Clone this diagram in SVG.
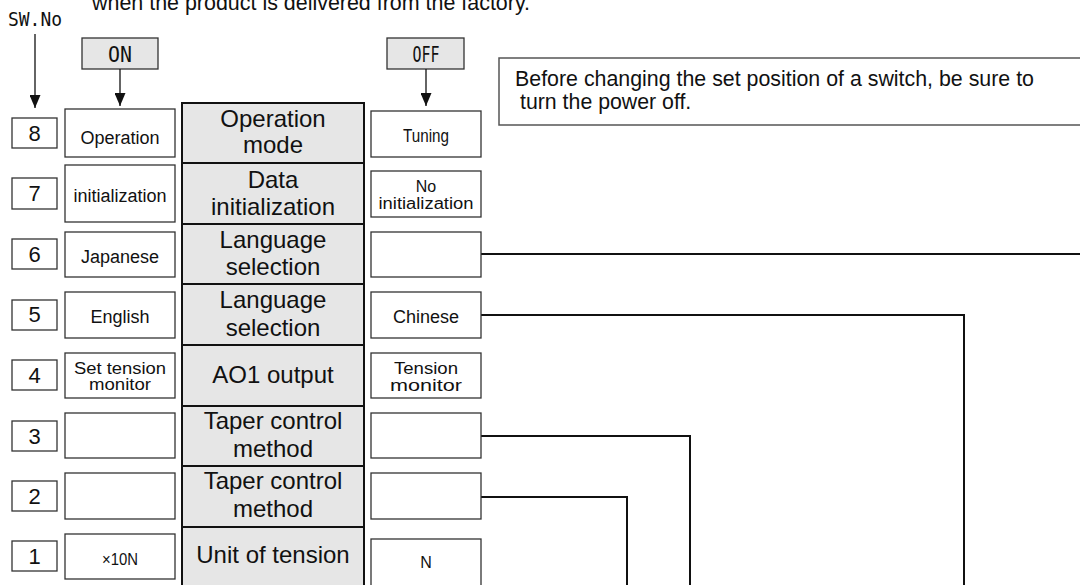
<svg xmlns="http://www.w3.org/2000/svg" width="1080" height="585" viewBox="0 0 1080 585">
<style>
.bg{fill:#fff}
.box{fill:#fff;stroke:#333;stroke-width:1.3}
.hdr{fill:#e6e6e6;stroke:#333;stroke-width:1.3}
.cell{fill:#e6e6e6;stroke:#111;stroke-width:2}
.conn{fill:none;stroke:#111;stroke-width:2}
.arr{fill:none;stroke:#111;stroke-width:1.3}
.sans{font-family:"Liberation Sans",Arial,sans-serif;fill:#111;text-anchor:middle}
.mono{font-family:"DejaVu Sans Mono","Liberation Mono",monospace;fill:#111;text-anchor:middle}
.c{font-size:24px}
.s{font-size:18px}
.t{font-size:16px}
.n{font-size:22px}
.note{font-family:"Liberation Sans",Arial,sans-serif;fill:#111;font-size:21.3px}
</style>
<defs>
<marker id="ah" viewBox="0 0 11 13" refX="5.5" refY="13" markerWidth="11" markerHeight="13" markerUnits="userSpaceOnUse" orient="0">
<path d="M0,0 L11,0 L5.5,13 z" fill="#111"/>
</marker>
</defs>
<rect class="bg" x="0" y="0" width="1080" height="585"/>

<text class="note" x="92" y="10" textLength="438" lengthAdjust="spacingAndGlyphs">when the product is delivered from the factory.</text>

<g id="swno">
<text class="mono" x="35" y="26" font-size="20" textLength="54" lengthAdjust="spacingAndGlyphs">SW.No</text>
</g>
<g id="on-header">
<rect class="hdr" x="82" y="38" width="76" height="31"/>
<text class="mono" x="120" y="62" font-size="21" textLength="24" lengthAdjust="spacingAndGlyphs">ON</text>
</g>
<g id="off-header">
<rect class="hdr" x="387" y="38" width="77" height="31"/>
<text class="mono" x="426" y="62" font-size="21" textLength="27" lengthAdjust="spacingAndGlyphs">OFF</text>
</g>

<g id="note">
<rect x="499" y="58" width="600" height="67" fill="#fff" stroke="#555" stroke-width="1.5"/>
<text class="note" x="515" y="86" textLength="519" lengthAdjust="spacingAndGlyphs">Before changing the set position of a switch, be sure to</text>
<text class="note" x="520" y="109">turn the power off.</text>
</g>

<g id="connectors">
<line class="arr" x1="35" y1="34" x2="35" y2="108" marker-end="url(#ah)"/>
<line class="arr" x1="120" y1="69" x2="120" y2="106" marker-end="url(#ah)"/>
<line class="arr" x1="426" y1="69" x2="426" y2="106" marker-end="url(#ah)"/>
<polyline class="conn" points="481,254 1082,254"/>
<polyline class="conn" points="481,315 964,315 964,590"/>
<polyline class="conn" points="481,436 690,436 690,590"/>
<polyline class="conn" points="481,497 627,497 627,590"/>
</g>

<g id="row8">
<rect class="box" x="12" y="118" width="45" height="30"/>
<text class="sans n" x="34.5" y="140.5">8</text>
<rect class="box" x="65" y="109" width="110" height="48"/>
<text class="sans s" x="120" y="144">Operation</text>
<rect class="cell" x="182" y="103" width="182" height="60"/>
<text class="sans c" x="273" y="127">Operation</text>
<text class="sans c" x="273" y="153">mode</text>
<rect class="box" x="371" y="111" width="110" height="46"/>
<text class="sans s" x="426" y="142" textLength="46" lengthAdjust="spacingAndGlyphs">Tuning</text>
</g>

<g id="row7">
<rect class="box" x="12" y="178" width="45" height="31"/>
<text class="sans n" x="34.5" y="201">7</text>
<rect class="box" x="65" y="165" width="110" height="57"/>
<text class="sans s" x="120" y="202">initialization</text>
<rect class="cell" x="182" y="163" width="182" height="61"/>
<text class="sans c" x="273" y="188">Data</text>
<text class="sans c" x="273" y="215">initialization</text>
<rect class="box" x="371" y="171" width="110" height="46"/>
<text class="sans t" x="426" y="192">No</text>
<text class="sans t" x="426" y="209" textLength="95" lengthAdjust="spacingAndGlyphs">initialization</text>
</g>

<g id="row6">
<rect class="box" x="12" y="239" width="45" height="30"/>
<text class="sans n" x="34.5" y="261.5">6</text>
<rect class="box" x="65" y="232" width="110" height="45"/>
<text class="sans s" x="120" y="263">Japanese</text>
<rect class="cell" x="182" y="224" width="182" height="60"/>
<text class="sans c" x="273" y="248">Language</text>
<text class="sans c" x="273" y="275">selection</text>
<rect class="box" x="371" y="232" width="110" height="45"/>
</g>

<g id="row5">
<rect class="box" x="12" y="300" width="45" height="30"/>
<text class="sans n" x="34.5" y="322">5</text>
<rect class="box" x="65" y="292" width="110" height="46"/>
<text class="sans s" x="120" y="323">English</text>
<rect class="cell" x="182" y="284" width="182" height="61"/>
<text class="sans c" x="273" y="308">Language</text>
<text class="sans c" x="273" y="336">selection</text>
<rect class="box" x="371" y="292" width="110" height="46"/>
<text class="sans s" x="426" y="323">Chinese</text>
</g>

<g id="row4">
<rect class="box" x="12" y="360" width="45" height="30"/>
<text class="sans n" x="34.5" y="382.5">4</text>
<rect class="box" x="65" y="353" width="110" height="45"/>
<text class="sans t" x="120" y="374" textLength="92" lengthAdjust="spacingAndGlyphs">Set tension</text>
<text class="sans t" x="120" y="390" textLength="62" lengthAdjust="spacingAndGlyphs">monitor</text>
<rect class="cell" x="182" y="345" width="182" height="61"/>
<text class="sans c" x="273" y="383">AO1 output</text>
<rect class="box" x="371" y="353" width="110" height="45"/>
<text class="sans t" x="426" y="374" textLength="64" lengthAdjust="spacingAndGlyphs">Tension</text>
<text class="sans t" x="426" y="391" textLength="72" lengthAdjust="spacingAndGlyphs">monitor</text>
</g>

<g id="row3">
<rect class="box" x="12" y="421" width="45" height="30"/>
<text class="sans n" x="34.5" y="443.5">3</text>
<rect class="box" x="65" y="413" width="110" height="45"/>
<rect class="cell" x="182" y="406" width="182" height="60"/>
<text class="sans c" x="273" y="429">Taper control</text>
<text class="sans c" x="273" y="457">method</text>
<rect class="box" x="371" y="413" width="110" height="45"/>
</g>

<g id="row2">
<rect class="box" x="12" y="481" width="45" height="30"/>
<text class="sans n" x="34.5" y="503.5">2</text>
<rect class="box" x="65" y="473" width="110" height="46"/>
<rect class="cell" x="182" y="466" width="182" height="61"/>
<text class="sans c" x="273" y="489">Taper control</text>
<text class="sans c" x="273" y="517">method</text>
<rect class="box" x="371" y="473" width="110" height="46"/>
</g>

<g id="row1">
<rect class="box" x="12" y="541" width="45" height="30"/>
<text class="sans n" x="34.5" y="563.5">1</text>
<rect class="box" x="65" y="534" width="110" height="45"/>
<text class="sans t" x="120" y="565" textLength="36" lengthAdjust="spacingAndGlyphs">×10N</text>
<rect class="cell" x="182" y="527" width="182" height="65"/>
<text class="sans c" x="273" y="563">Unit of tension</text>
<rect class="box" x="371" y="539" width="110" height="55"/>
<text class="sans t" x="426" y="568">N</text>
</g>
</svg>
